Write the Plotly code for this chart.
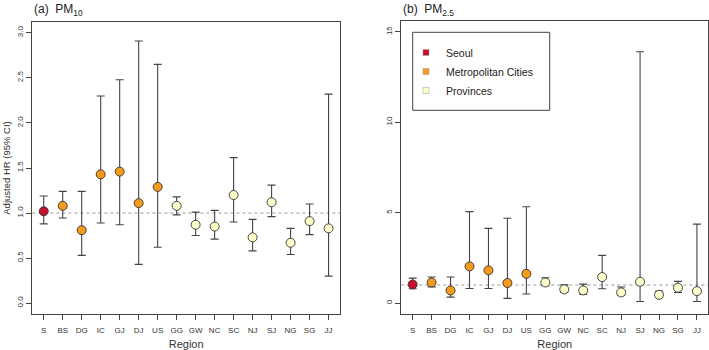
import plotly.graph_objects as go

regions = ["S", "BS", "DG", "IC", "GJ", "DJ", "US", "GG", "GW", "NC", "SC", "NJ", "SJ", "NG", "SG", "JJ"]
groups = ["Seoul", "Metro", "Metro", "Metro", "Metro", "Metro", "Metro",
          "Prov", "Prov", "Prov", "Prov", "Prov", "Prov", "Prov", "Prov", "Prov"]

pm10_hr = [1.02, 1.08, 0.81, 1.43, 1.46, 1.11, 1.29, 1.08, 0.87, 0.85, 1.20, 0.73, 1.12, 0.67, 0.91, 0.83]
pm10_lo = [0.88, 0.945, 0.53, 0.89, 0.87, 0.43, 0.62, 0.98, 0.75, 0.71, 0.90, 0.58, 0.96, 0.54, 0.76, 0.30]
pm10_hi = [1.19, 1.24, 1.24, 2.30, 2.48, 2.91, 2.65, 1.18, 1.01, 1.03, 1.615, 0.93, 1.31, 0.83, 1.10, 2.32]

pm25_hr = [1.03, 1.14, 0.70, 2.03, 1.81, 1.11, 1.62, 1.14, 0.76, 0.70, 1.44, 0.59, 1.18, 0.46, 0.85, 0.66]
pm25_lo = [0.79, 0.90, 0.33, 0.81, 0.81, 0.26, 0.50, 0.96, 0.59, 0.48, 0.79, 0.44, 0.09, 0.33, 0.59, 0.09]
pm25_hi = [1.38, 1.44, 1.44, 5.06, 4.13, 4.69, 5.33, 1.40, 1.01, 1.05, 2.64, 0.89, 13.9, 0.66, 1.20, 4.37]

group_names = {"Seoul": "Seoul", "Metro": "Metropolitan Cities", "Prov": "Provinces"}
group_colors = {"Seoul": "#C8102E", "Metro": "#F59A1B", "Prov": "#FFFFCC"}

FONT = "Liberation Sans, Arial, sans-serif"
AX = "#444444"
W, H = 709, 350

fig = go.Figure()

def add_panel(hr, lo, hi, xa, ya):
    for g in ["Seoul", "Metro", "Prov"]:
        idx = [i for i, gg in enumerate(groups) if gg == g]
        xs = [i + 1 for i in idx]
        fig.add_trace(go.Scatter(
            x=xs, y=[hr[i] for i in idx], mode="markers",
            xaxis=xa, yaxis=ya, showlegend=False,
            marker=dict(size=9, color=group_colors[g], line=dict(color="#333333", width=0.9)),
            error_y=dict(type="data", symmetric=False,
                         array=[hi[i] - hr[i] for i in idx],
                         arrayminus=[hr[i] - lo[i] for i in idx],
                         color="#444444", thickness=1.1, width=4),
        ))

add_panel(pm10_hr, pm10_lo, pm10_hi, "x", "y")
add_panel(pm25_hr, pm25_lo, pm25_hi, "x2", "y2")

for g in ["Seoul", "Metro", "Prov"]:
    fig.add_trace(go.Scatter(
        x=[None], y=[None], mode="markers", xaxis="x2", yaxis="y2",
        name=group_names[g], showlegend=True,
        marker=dict(symbol="square", size=6, color=group_colors[g],
                    line=dict(color="#999999", width=0.5)),
    ))

xcommon = dict(
    tickmode="array", tickvals=list(range(1, 17)), ticktext=regions,
    showline=True, mirror=True, linecolor=AX, linewidth=1,
    ticks="outside", ticklen=5, tickcolor=AX, tickwidth=1,
    showgrid=False, zeroline=False, ticklabelstandoff=3,
    tickfont=dict(size=8, color="#333333", family=FONT),
    range=[0.4, 16.6],
    title=dict(text="Region", font=dict(size=11, color="#333333", family=FONT), standoff=6),
)
ycommon = dict(
    showline=True, mirror=True, linecolor=AX, linewidth=1,
    ticks="outside", ticklen=5, tickcolor=AX, tickwidth=1,
    showgrid=False, zeroline=False, tickangle=-90,
    tickfont=dict(size=8, color="#333333", family=FONT),
)

fig.update_layout(
    width=W, height=H,
    margin=dict(l=0, r=0, t=0, b=0),
    paper_bgcolor="white", plot_bgcolor="white",
    font=dict(family=FONT, color="#333333"),
    xaxis=dict(domain=[0.0456, 0.4795], anchor="y", **xcommon),
    yaxis=dict(domain=[0.103, 0.937], anchor="x", range=[-0.12, 3.12],
               tickvals=[0, 0.5, 1.0, 1.5, 2.0, 2.5, 3.0],
               ticktext=["0.0", "0.5", "1.0", "1.5", "2.0", "2.5", "3.0"],
               title=dict(text="Adjusted HR (95% CI)", font=dict(size=9.5, color="#333333", family=FONT), standoff=3),
               **ycommon),
    xaxis2=dict(domain=[0.566, 0.999], anchor="y2", **xcommon),
    yaxis2=dict(domain=[0.103, 0.94], anchor="x2", range=[-0.6, 15.6],
                tickvals=[0, 5, 10, 15], **ycommon),
    legend=dict(x=406 / W, y=1 - 38 / H, xanchor="left", yanchor="top",
                borderwidth=0, bgcolor="rgba(0,0,0,0)",
                font=dict(size=10.5, color="#222222", family=FONT),
                itemsizing="trace", itemwidth=30),
    shapes=[
        dict(type="line", xref="x domain", yref="y", x0=0, x1=1, y0=1, y1=1,
             line=dict(color="#999999", width=1, dash="dot"), layer="below"),
        dict(type="line", xref="x2 domain", yref="y2", x0=0, x1=1, y0=1, y1=1,
             line=dict(color="#999999", width=1, dash="dot"), layer="below"),
        dict(type="rect", xref="paper", yref="paper",
             x0=412.7 / W, x1=549.7 / W, y0=1 - 110.3 / H, y1=1 - 32.3 / H,
             line=dict(color="#444444", width=1), fillcolor="rgba(0,0,0,0)", layer="above"),
    ],
    annotations=[
        dict(text="(a)  PM<sub>10</sub>", x=32 / W, y=1 - 10 / H, xref="paper", yref="paper",
             xanchor="left", yanchor="middle", showarrow=False,
             font=dict(size=12, color="#222222", family=FONT)),
        dict(text="(b)  PM<sub>2.5</sub>", x=401 / W, y=1 - 10 / H, xref="paper", yref="paper",
             xanchor="left", yanchor="middle", showarrow=False,
             font=dict(size=12, color="#222222", family=FONT)),
    ],
)

fig.write_html("out.html", config={"displayModeBar": False},
               post_script="document.body.style.margin='0';document.body.style.padding='0';")
